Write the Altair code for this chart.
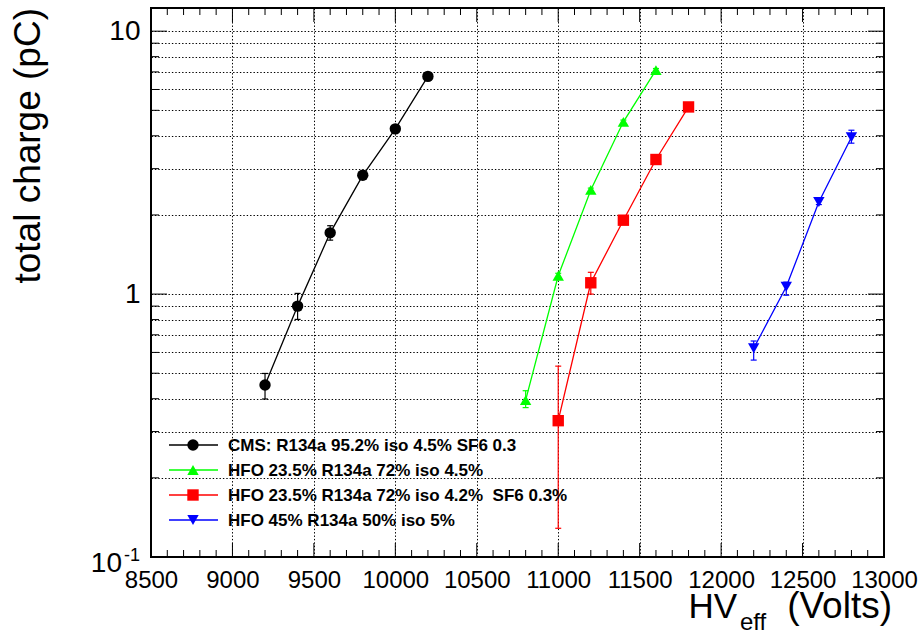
import altair as alt
import pandas as pd

# ---------------- data ----------------
series_names = [
    "CMS: R134a 95.2% iso 4.5% SF6 0.3",
    "HFO 23.5% R134a 72% iso 4.5%",
    "HFO 23.5% R134a 72% iso 4.2%\u00a0 SF6 0.3%",
    "HFO 45% R134a 50% iso 5%",
]
series_colors = ["#000000", "#00ff00", "#ff0000", "#0000ff"]
series_shapes = ["circle", "triangle-up", "square", "triangle-down"]

hv_cms = [9200, 9400, 9600, 9800, 10000, 10200]
q_cms = [0.451, 0.900, 1.71, 2.83, 4.25, 6.73]
lo_cms = [0.399, 0.801, 1.604, 2.78, 4.19, 6.66]
hi_cms = [0.499, 1.006, 1.82, 2.88, 4.31, 6.80]

hv_g = [10800, 11000, 11200, 11400, 11600]
q_g = [0.395, 1.174, 2.49, 4.52, 7.11]
lo_g = [0.370, 1.15, 2.45, 4.45, 7.01]
hi_g = [0.429, 1.20, 2.53, 4.59, 7.21]

hv_r = [11000, 11200, 11400, 11600, 11800]
q_r = [0.330, 1.104, 1.91, 3.25, 5.15]
lo_r = [0.1286, 1.00, 1.87, 3.19, 5.07]
hi_r = [0.532, 1.21, 1.95, 3.31, 5.23]

hv_b = [12200, 12400, 12600, 12800]
q_b = [0.622, 1.066, 2.24, 3.95]
lo_b = [0.561, 0.99, 2.19, 3.75]
hi_b = [0.663, 1.11, 2.29, 4.20]

x_tick_labels = [8500, 9000, 9500, 10000, 10500, 11000, 11500, 12000, 12500, 13000]
y_grid_values = [0.1, 0.2, 0.3, 0.4, 0.5, 0.6, 0.7, 0.8, 0.9,
                 1, 2, 3, 4, 5, 6, 7, 8, 9, 10]

# ---------------- tables ----------------
rows = []
for name, hv, q, lo, hi in [
    (series_names[0], hv_cms, q_cms, lo_cms, hi_cms),
    (series_names[1], hv_g, q_g, lo_g, hi_g),
    (series_names[2], hv_r, q_r, lo_r, hi_r),
    (series_names[3], hv_b, q_b, lo_b, hi_b),
]:
    for a, b, c, d in zip(hv, q, lo, hi):
        rows.append({"series": name, "hv": a, "q": b, "lo": c, "hi": d})
df = pd.DataFrame(rows)

W, H = 733, 549
FONT = "Liberation Sans"

xscale = alt.Scale(type="linear", domain=[8500, 13000], nice=False, zero=False)
yscale = alt.Scale(type="log", domain=[0.1, 12.25], nice=False)

xaxis = alt.Axis(values=x_tick_labels, grid=True, gridColor="black", gridDash=[1.4, 2],
                 gridWidth=1, gridOpacity=1, ticks=False, domain=False,
                 labelFontSize=24, labelFont=FONT, labelColor="black", labelPadding=11,
                 labelFlush=False, labelOverlap=False, format="d", title=None)
yaxis = alt.Axis(values=y_grid_values, grid=True, gridColor="black", gridDash=[1.4, 2],
                 gridWidth=1, gridOpacity=1, ticks=False, domain=False,
                 labelFontSize=28, labelFont=FONT, labelColor="black", labelPadding=11,
                 labelExpr="datum.value == 1 || datum.value == 10 ? datum.label : ''",
                 format="~g", labelOverlap=False, title=None)


def X(field):
    return alt.X(field, type="quantitative", scale=xscale, axis=xaxis)


def Y(field):
    return alt.Y(field, type="quantitative", scale=yscale, axis=yaxis)


color = alt.Color("series:N", scale=alt.Scale(domain=series_names, range=series_colors), legend=None)
shape = alt.Shape("series:N", scale=alt.Scale(domain=series_names, range=series_shapes), legend=None)

# ---------------- ticks (inward, all four sides) ----------------
x_minor = pd.DataFrame({"v": [v for v in range(8600, 13000, 100) if v % 500 != 0]})
x_major = pd.DataFrame({"v": x_tick_labels[1:-1]})
y_minor = pd.DataFrame({"v": [v for v in y_grid_values if v not in (0.1, 1, 10)]})
y_major = pd.DataFrame({"v": [1, 10]})

tick_layers = []
for d, L in [(x_minor, 7), (x_major, 14)]:
    tick_layers.append(alt.Chart(d).mark_rule(color="black", strokeWidth=1).encode(
        x=X("v"), y=alt.value(H), y2=alt.value(H - L)))
    tick_layers.append(alt.Chart(d).mark_rule(color="black", strokeWidth=1).encode(
        x=X("v"), y=alt.value(0), y2=alt.value(L)))
for d, L in [(y_minor, 8), (y_major, 16)]:
    tick_layers.append(alt.Chart(d).mark_rule(color="black", strokeWidth=1).encode(
        y=Y("v"), x=alt.value(0), x2=alt.value(L)))
    tick_layers.append(alt.Chart(d).mark_rule(color="black", strokeWidth=1).encode(
        y=Y("v"), x=alt.value(W), x2=alt.value(W - L)))

one = pd.DataFrame({"a": [0]})
frame = alt.Chart(one).mark_rect(fillOpacity=0, stroke="black", strokeWidth=2).encode(
    x=alt.value(0), x2=alt.value(W), y=alt.value(0), y2=alt.value(H))

# ---------------- data marks ----------------
base = alt.Chart(df)
lines = base.mark_line(strokeWidth=1.3).encode(x=X("hv"), y=Y("q"), color=color, detail="series:N")
ebar = base.mark_rule(strokeWidth=1.2).encode(x=X("hv"), y=Y("lo"), y2="hi", color=color)
cap_lo = base.mark_rule(strokeWidth=1.2, xOffset=-3, x2Offset=3).encode(
    x=X("hv"), x2="hv", y=Y("lo"), color=color)
cap_hi = base.mark_rule(strokeWidth=1.2, xOffset=-3, x2Offset=3).encode(
    x=X("hv"), x2="hv", y=Y("hi"), color=color)
pts = base.mark_point(filled=True, size=130, opacity=1).encode(
    x=X("hv"), y=Y("q"), color=color, shape=shape)

# ---------------- legend ----------------
leg_layers = []
for i, (name, c, s) in enumerate(zip(series_names, series_colors, series_shapes)):
    yy = 437 + 25 * i
    d = pd.DataFrame({"label": [name]})
    leg_layers.append(alt.Chart(d).mark_rule(color=c, strokeWidth=1.3).encode(
        x=alt.value(18), x2=alt.value(67), y=alt.value(yy)))
    leg_layers.append(alt.Chart(d).mark_point(filled=True, size=130, opacity=1, color=c, shape=s).encode(
        x=alt.value(42), y=alt.value(yy)))
    leg_layers.append(alt.Chart(d).mark_text(align="left", baseline="middle", font=FONT,
                                             fontSize=17, fontWeight="bold", color="black").encode(
        x=alt.value(77), y=alt.value(yy + 1), text="label:N"))

# ---------------- titles / special labels ----------------
def txt(s, x, y, size, align="left", baseline="alphabetic", angle=0):
    return alt.Chart(pd.DataFrame({"t": [s]})).mark_text(
        align=align, baseline=baseline, font=FONT, fontSize=size, color="black", angle=angle
    ).encode(x=alt.value(x), y=alt.value(y), text="t:N")

texts = [
    txt("10", -29, 564, 28, align="right"),
    txt("-1", -27, 553, 18, align="left"),
    txt("(Volts)", 741, 610, 37, align="right"),
    txt("HV", 586, 610, 35, align="right"),
    txt("eff", 589, 622, 24, align="left"),
    txt("total charge (pC)", -122, 0, 37, align="right", baseline="middle", angle=270),
]

chart = alt.layer(
    frame, *tick_layers, lines, ebar, cap_lo, cap_hi, pts, *leg_layers, *texts
).properties(
    width=W, height=H,
    autosize=alt.AutoSizeParams(type="none"),
    padding={"left": 151, "top": 8, "right": 39, "bottom": 78},
    background="white",
).configure_view(stroke=None)

chart.save("out.html", embed_options={"renderer": "svg", "actions": False})
